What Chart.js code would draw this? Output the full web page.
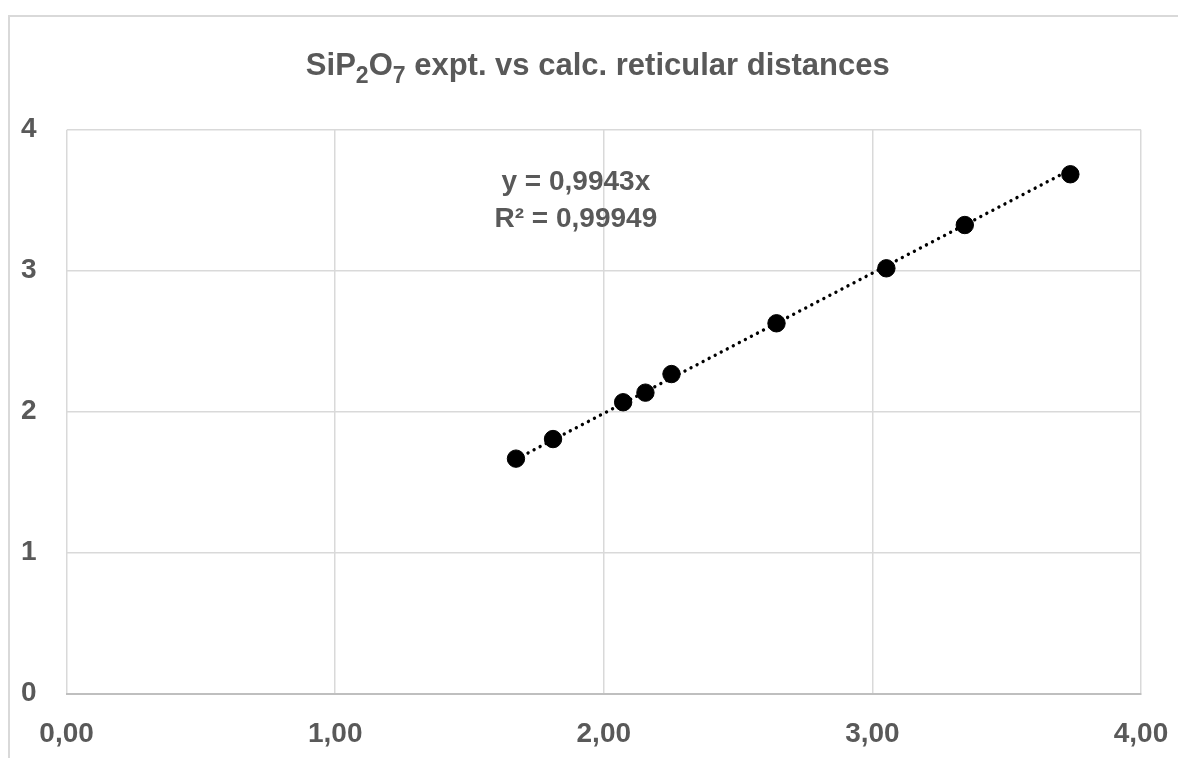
<!DOCTYPE html>
<html>
<head>
<meta charset="utf-8">
<script src="https://cdn.jsdelivr.net/npm/chart.js@4.4.1/dist/chart.umd.min.js"></script>
<style>
  html, body { margin: 0; padding: 0; background: #ffffff; overflow: hidden; }
  #frame { position: absolute; left: 8px; top: 15px; width: 1300px; height: 900px;
           border: 2px solid #d9d9d9; box-sizing: border-box; }
  #wrap { position: absolute; left: 0; top: 0; width: 1178px; height: 758px; }
</style>
</head>
<body>
<div id="frame"></div>
<div id="wrap"><canvas id="c" width="1178" height="758"></canvas></div>
<script>
// ---- data ----
const calcX = [1.673, 1.811, 2.072, 2.155, 2.252, 2.643, 3.052, 3.344, 3.737];
const exptY = [1.667, 1.806, 2.067, 2.135, 2.267, 2.627, 3.017, 3.324, 3.684];
const trendX = [1.673, 3.737];
const trendY = [1.663, 3.716];
const xTicks = [0, 1, 2, 3, 4];
const yTicks = [0, 1, 2, 3, 4];
// title pieces: [text, isSubscript]
const titleParts = [['SiP', false], ['2', true], ['O', false], ['7', true], [' expt. vs calc. reticular distances', false]];
const equationLines = ['y = 0,9943x', 'R\u00B2 = 0,99949'];

const TEXT = '#595959';
const GRID = '#d9d9d9';
const FONT = '"Liberation Sans", Arial, sans-serif';

const pointsData = calcX.map((x, i) => ({ x: x, y: exptY[i] }));
const trendData = trendX.map((x, i) => ({ x: x, y: trendY[i] }));

const titlePlugin = {
  id: 'subTitle',
  afterDraw(chart, args, opts) {
    const ctx = chart.ctx;
    const mainFont = 'bold ' + opts.size + 'px ' + FONT;
    const subFont = 'bold ' + opts.subSize + 'px ' + FONT;
    ctx.save();
    let total = 0;
    const widths = opts.parts.map(([t, sub]) => {
      ctx.font = sub ? subFont : mainFont;
      const w = ctx.measureText(t).width;
      total += w;
      return w;
    });
    const ca = chart.chartArea;
    let x = (ca.left + ca.right) / 2 + opts.dx - total / 2;
    ctx.fillStyle = TEXT;
    ctx.textAlign = 'left';
    ctx.textBaseline = 'alphabetic';
    opts.parts.forEach(([t, sub], i) => {
      ctx.font = sub ? subFont : mainFont;
      ctx.fillText(t, x, opts.baseline + (sub ? opts.subShift : 0));
      x += widths[i];
    });
    ctx.restore();
  }
};

const equationPlugin = {
  id: 'equationLabel',
  afterDatasetsDraw(chart, args, opts) {
    const ctx = chart.ctx;
    const xs = chart.scales.x, ys = chart.scales.y;
    const cx = xs.getPixelForValue(opts.x);
    const cy = ys.getPixelForValue(opts.y);
    ctx.save();
    ctx.fillStyle = TEXT;
    ctx.font = 'bold 28px ' + FONT;
    ctx.textAlign = 'center';
    ctx.textBaseline = 'middle';
    opts.lines.forEach((t, i) => ctx.fillText(t, cx, cy + i * 37));
    ctx.restore();
  }
};

new Chart(document.getElementById('c'), {
  type: 'scatter',
  data: {
    datasets: [
      {
        label: 'expt. vs calc.',
        data: pointsData,
        backgroundColor: '#000000',
        borderColor: '#000000',
        pointRadius: 8.7,
        pointHoverRadius: 8.7,
        order: 1
      },
      {
        label: 'Linear trend',
        type: 'line',
        data: trendData,
        borderColor: '#000000',
        borderWidth: 3.4,
        borderDash: [0.01, 6.8],
        borderCapStyle: 'round',
        pointRadius: 0,
        fill: false,
        tension: 0,
        order: 2
      }
    ]
  },
  options: {
    responsive: false,
    animation: false,
    events: [],
    layout: { padding: { left: 0, right: 37, top: 129.7, bottom: 0 } },
    plugins: {
      legend: { display: false },
      tooltip: { enabled: false },
      title: { display: false },
      subTitle: { parts: titleParts, size: 31, subSize: 23, subShift: 8, baseline: 75, dx: -6 },
      equationLabel: { x: 1.896, y: 3.625, lines: equationLines }
    },
    scales: {
      x: {
        type: 'linear',
        min: 0, max: 4,
        afterBuildTicks: (s) => { s.ticks = xTicks.map(v => ({ value: v })); },
        ticks: {
          color: TEXT,
          font: { family: FONT, size: 28, weight: 'bold' },
          padding: 24,
          maxRotation: 0,
          callback: (v) => Number(v).toFixed(2).replace('.', ',')
        },
        grid: { color: GRID, lineWidth: 1.5, drawTicks: false },
        border: { display: true, color: '#bfbfbf', width: 2 },
        afterFit: (s) => { s.height = 64.3; s.paddingRight = 0; s.paddingLeft = 0; }
      },
      y: {
        type: 'linear',
        min: 0, max: 4,
        afterBuildTicks: (s) => { s.ticks = yTicks.map(v => ({ value: v })); },
        ticks: {
          color: TEXT,
          font: { family: FONT, size: 28, weight: 'bold' },
          padding: 30,
          callback: (v) => String(v)
        },
        grid: { color: GRID, lineWidth: 1.5, drawTicks: false },
        border: { display: false },
        afterFit: (s) => { s.width = 66.6; s.paddingTop = 0; s.paddingBottom = 0; }
      }
    }
  },
  plugins: [titlePlugin, equationPlugin]
});
</script>
</body>
</html>
